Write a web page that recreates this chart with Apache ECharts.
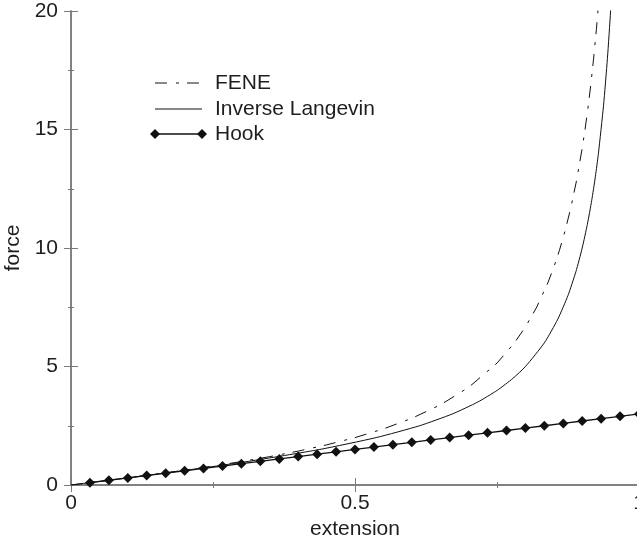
<!DOCTYPE html>
<html>
<head>
<meta charset="utf-8">
<script src="https://cdn.jsdelivr.net/npm/echarts@6/dist/echarts.min.js"></script>
<style>
  html, body { margin: 0; padding: 0; background: #fff; }
  #chart { width: 637px; height: 545px; }
</style>
</head>
<body>
<div id="chart"></div>
<script>
// FENE spring force vs. extension
const feneX = [0, 0.05, 0.1, 0.15, 0.2, 0.25, 0.3, 0.35, 0.4, 0.45, 0.5, 0.55, 0.6, 0.65, 0.7, 0.75,
  0.78, 0.8, 0.82, 0.84, 0.85, 0.86, 0.87, 0.88, 0.89, 0.9, 0.905, 0.91, 0.915, 0.92, 0.925, 0.93, 0.935];
const feneY = [0, 0.150, 0.303, 0.460, 0.625, 0.800, 0.989, 1.197, 1.429, 1.693, 2.000, 2.366, 2.813, 3.377, 4.118, 5.143,
  5.976, 6.667, 7.509, 8.560, 9.189, 9.908, 10.736, 11.70, 12.843, 14.21, 15.00, 15.88, 16.86, 17.97, 19.22, 20.65, 22.30];

// Inverse Langevin force vs. extension
const langevinX = [0, 0.0830, 0.1640, 0.2411, 0.3130, 0.4381, 0.5373, 0.6136, 0.6716, 0.7161, 0.7507, 0.7780, 0.8001,
  0.8334, 0.8571, 0.8750, 0.8889, 0.9000, 0.9091, 0.9167, 0.9231, 0.9286, 0.9375, 0.9444, 0.9500, 0.9545];
const langevinY = [0, 0.25, 0.5, 0.75, 1, 1.5, 2, 2.5, 3, 3.5, 4, 4.5, 5,
  6, 7, 8, 9, 10, 11, 12, 13, 14, 16, 18, 20, 22];

// Hookean spring, sampled points
const hookX = [0.0333, 0.0667, 0.1, 0.1333, 0.1667, 0.2, 0.2333, 0.2667, 0.3, 0.3333,
  0.3667, 0.4, 0.4333, 0.4667, 0.5, 0.5333, 0.5667, 0.6, 0.6333, 0.6667,
  0.7, 0.7333, 0.7667, 0.8, 0.8333, 0.8667, 0.9, 0.9333, 0.9667, 1.0];
const hookY = [0.1, 0.2, 0.3, 0.4, 0.5, 0.6, 0.7, 0.8, 0.9, 1.0,
  1.1, 1.2, 1.3, 1.4, 1.5, 1.6, 1.7, 1.8, 1.9, 2.0,
  2.1, 2.2, 2.3, 2.4, 2.5, 2.6, 2.7, 2.8, 2.9, 3.0];

const seriesNames = ['FENE', 'Inverse Langevin', 'Hook'];

const pairs = (xs, ys) => xs.map((x, i) => [x, ys[i]]);

const FONT = '"Liberation Sans", Arial, Helvetica, sans-serif';
const AXIS_COLOR = '#7a7a7a';
const TEXT_COLOR = '#1e1e1e';
const DASH_DOT = [12, 9, 3, 8];

function axisBase(showLabels, margin) {
  return {
    axisLine: { show: true, lineStyle: { color: AXIS_COLOR, width: 1.5 } },
    axisTick: { show: true, inside: true, length: 7, lineStyle: { color: AXIS_COLOR, width: 1 } },
    minorTick: { show: true, splitNumber: 2, length: 3, lineStyle: { color: AXIS_COLOR, width: 1 } },
    splitLine: { show: false },
    minorSplitLine: { show: false },
    axisLabel: { show: showLabels, margin: margin || 8, fontSize: 21, fontFamily: FONT, color: TEXT_COLOR }
  };
}

const chart = echarts.init(document.getElementById('chart'), null, { renderer: 'canvas' });

// Legend rows: line sample + label
const legendLeft = 155, legendRight = 202, legendText = 215;
const rowY = [83, 109, 134];
function diamond(cx, cy) {
  return { type: 'polygon', shape: { points: [[cx - 5, cy], [cx, cy - 5], [cx + 5, cy], [cx, cy + 5]] },
           style: { fill: '#111' }, z: 100 };
}
const legendGraphics = [
  { type: 'line', shape: { x1: legendLeft, y1: rowY[0], x2: legendRight, y2: rowY[0] },
    style: { stroke: '#111', lineWidth: 1, lineDash: DASH_DOT }, z: 100 },
  { type: 'line', shape: { x1: legendLeft, y1: rowY[1], x2: legendRight, y2: rowY[1] },
    style: { stroke: '#111', lineWidth: 1 }, z: 100 },
  { type: 'line', shape: { x1: legendLeft, y1: rowY[2], x2: legendRight, y2: rowY[2] },
    style: { stroke: '#111', lineWidth: 1.3 }, z: 100 },
  diamond(legendLeft, rowY[2]),
  diamond(legendRight, rowY[2])
];
seriesNames.forEach((name, i) => {
  legendGraphics.push({
    type: 'text', x: legendText, y: rowY[i], z: 100,
    style: { text: name, font: '21px ' + FONT, fill: TEXT_COLOR, verticalAlign: 'middle', align: 'left' }
  });
});

chart.setOption({
  animation: false,
  backgroundColor: '#fff',
  grid: { left: 71, top: 11, width: 568, height: 474, containLabel: false, outerBoundsMode: 'none' },
  xAxis: [
    Object.assign(axisBase(true, 8), {
      type: 'value', min: 0, max: 1, interval: 0.5, position: 'bottom',
      name: 'extension', nameLocation: 'middle', nameGap: 33,
      nameTextStyle: { fontSize: 21, fontFamily: FONT, color: TEXT_COLOR }
    }),
    Object.assign(axisBase(false), { type: 'value', min: 0, max: 1, interval: 0.5, position: 'top' })
  ],
  yAxis: [
    Object.assign(axisBase(true, 13), {
      type: 'value', min: 0, max: 20, interval: 5, position: 'left',
      name: 'force', nameLocation: 'middle', nameGap: 43, nameRotate: 90,
      nameTextStyle: { fontSize: 21, fontFamily: FONT, color: TEXT_COLOR }
    }),
    Object.assign(axisBase(false), { type: 'value', min: 0, max: 20, interval: 5, position: 'right' })
  ],
  graphic: legendGraphics,
  series: [
    {
      name: seriesNames[0], type: 'line', data: pairs(feneX, feneY),
      showSymbol: false, symbol: 'none', clip: true,
      lineStyle: { color: '#111', width: 1, type: DASH_DOT }
    },
    {
      name: seriesNames[1], type: 'line', data: pairs(langevinX, langevinY),
      showSymbol: false, symbol: 'none', clip: true, smooth: 0.2,
      lineStyle: { color: '#111', width: 1 }
    },
    {
      name: seriesNames[2], type: 'line', data: pairs(hookX, hookY),
      symbol: 'diamond', symbolSize: [10, 10], showSymbol: true, clip: true,
      itemStyle: { color: '#111' },
      lineStyle: { color: '#111', width: 1.3 }
    }
  ]
});
</script>
</body>
</html>
